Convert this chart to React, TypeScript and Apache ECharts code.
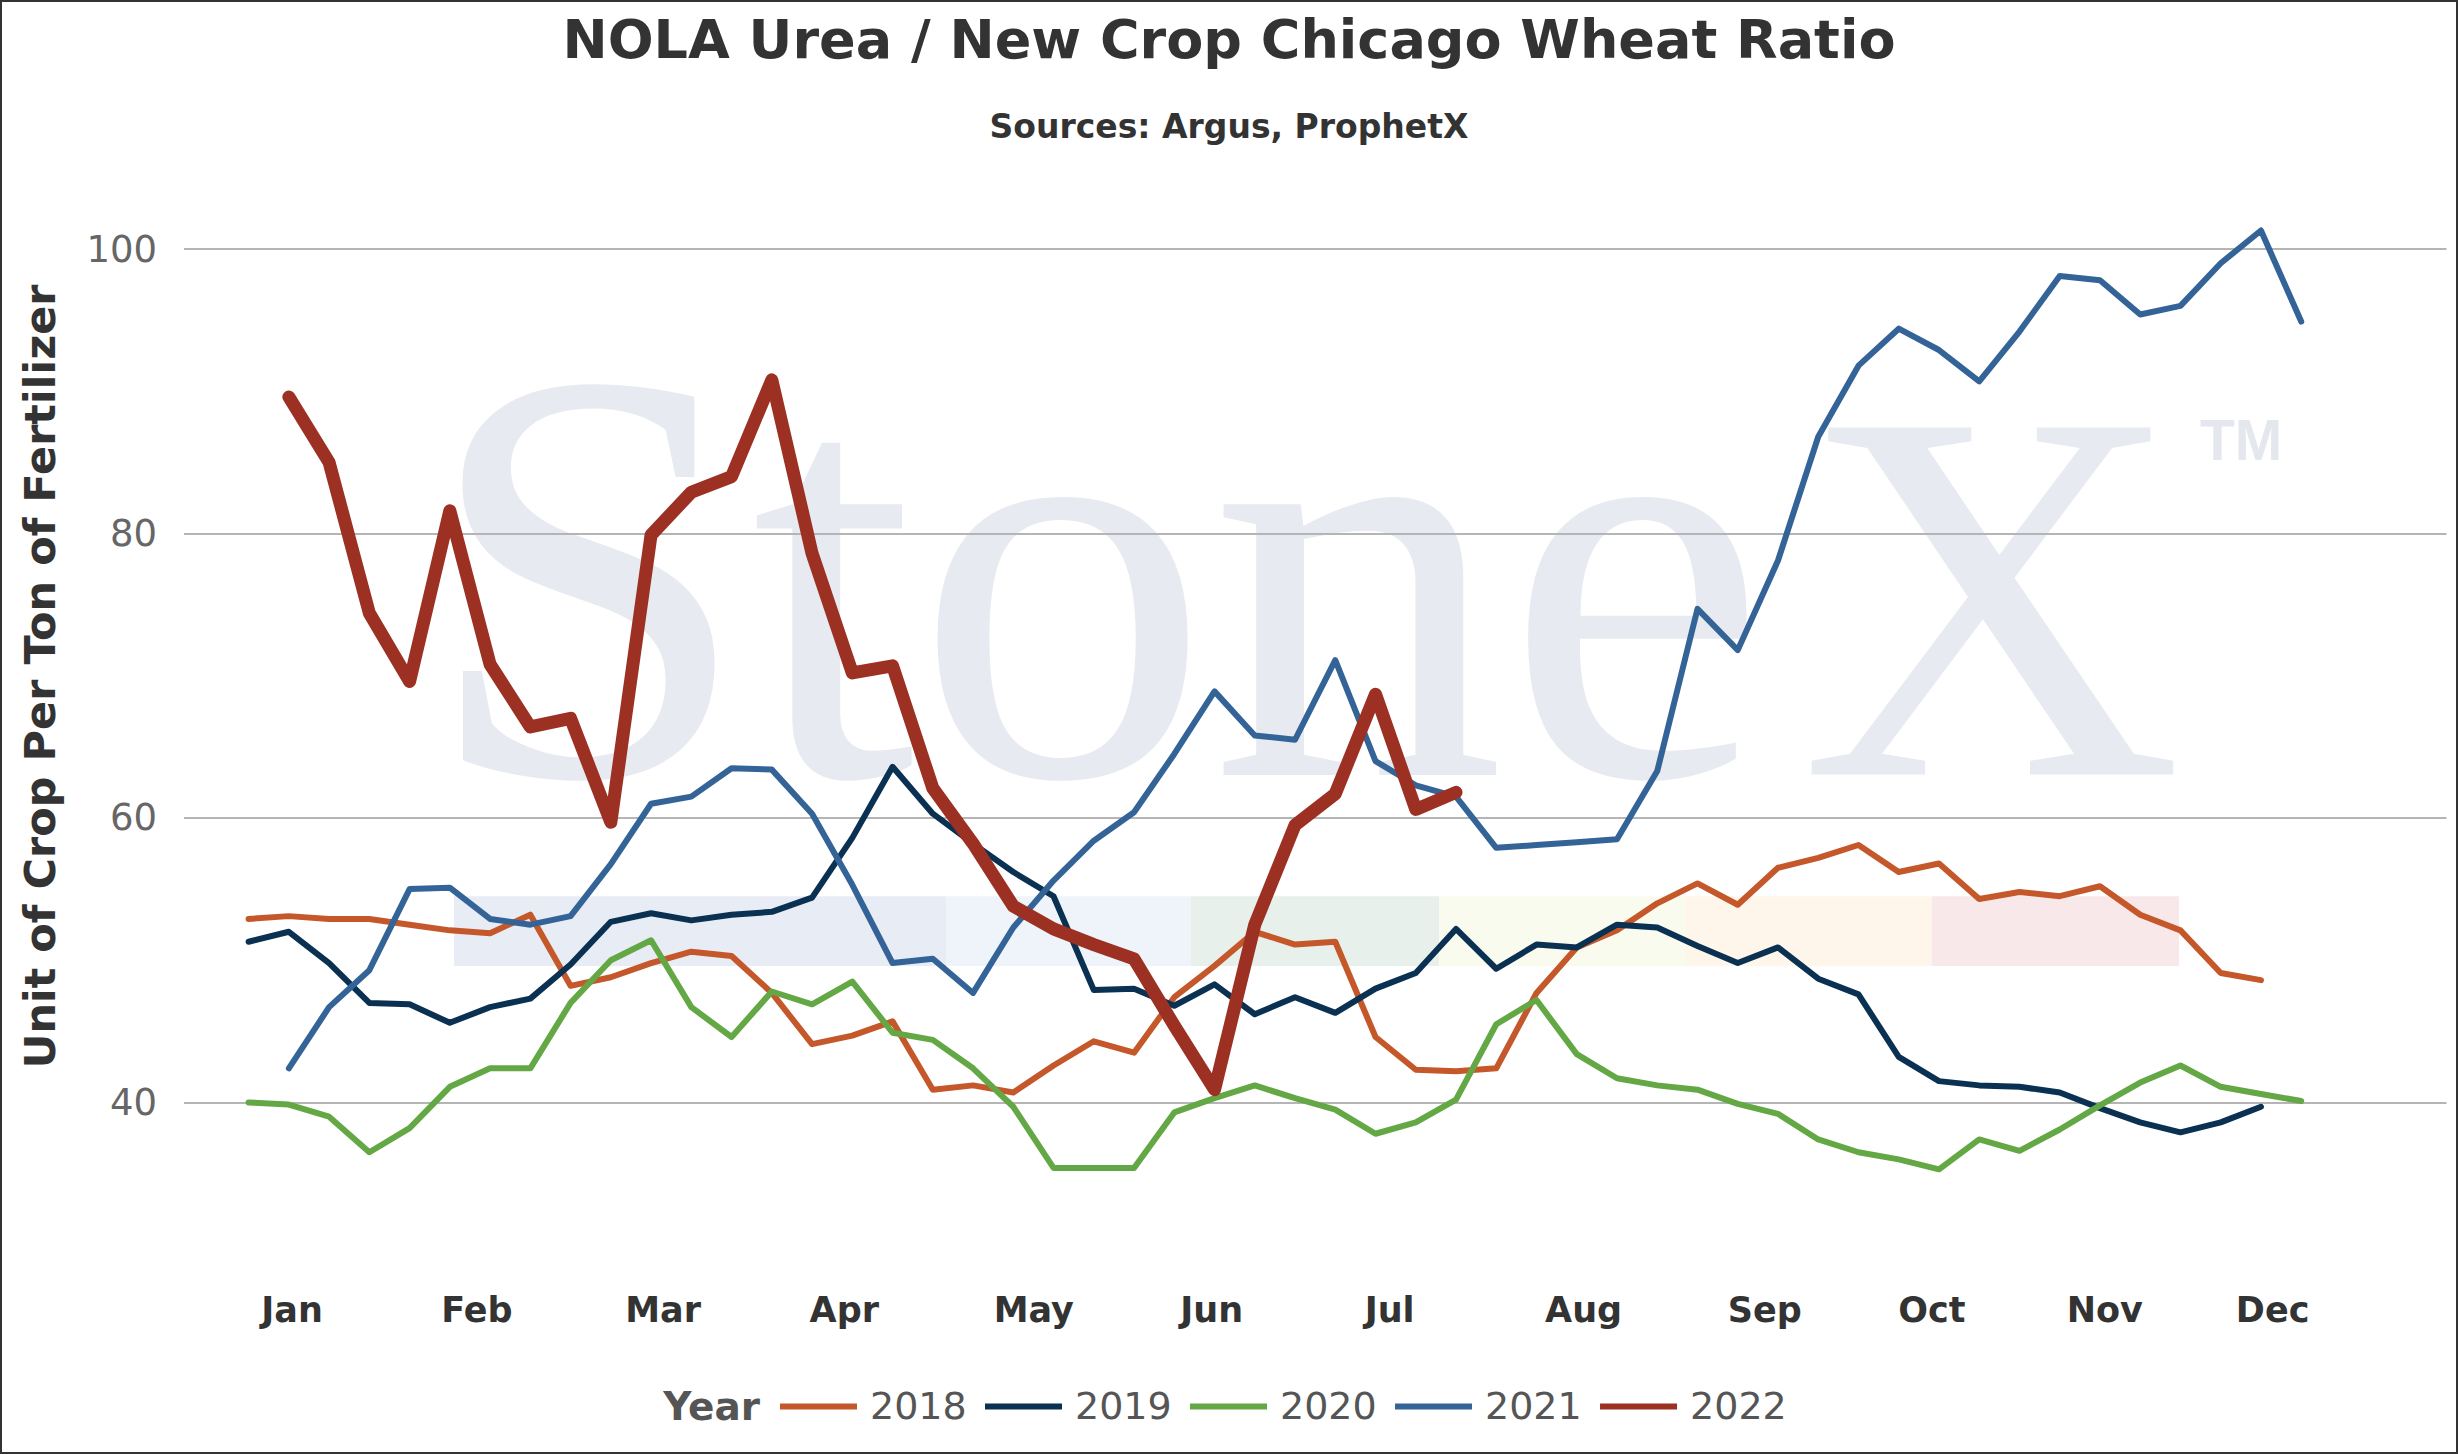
import React, { useEffect, useRef } from "react";
import * as echarts from "echarts";

// ---- data (weekly observations, index 0..51) ----
const years = ["2018", "2019", "2020", "2021", "2022"];
const monthLabels = ["Jan", "Feb", "Mar", "Apr", "May", "Jun", "Jul", "Aug", "Sep", "Oct", "Nov", "Dec"];
// week-index position at which each month label sits
const monthTickPositions = [1.08, 5.67, 10.3, 14.8, 19.51, 23.93, 28.35, 33.17, 37.67, 41.82, 46.12, 50.29];
const yTickValues = [40, 60, 80, 100];

const ratio2018 = [
  52.9, 53.1, 52.9, 52.9, 52.5, 52.1, 51.9, 53.2, 48.2, 48.8, 49.8, 50.6, 50.3,
  47.7, 44.1, 44.7, 45.7, 40.9, 41.2, 40.7, 42.6, 44.3, 43.5, 47.4, 49.6, 52.0,
  51.1, 51.3, 44.6, 42.3, 42.2, 42.4, 47.7, 50.9, 52.1, 54.0, 55.4, 53.9, 56.5,
  57.2, 58.1, 56.2, 56.8, 54.3, 54.8, 54.5, 55.2, 53.2, 52.1, 49.1, 48.6,
];
const ratio2019 = [
  51.3, 52.0, 49.8, 47.0, 46.9, 45.6, 46.7, 47.3, 49.7, 52.7, 53.3, 52.8, 53.2,
  53.4, 54.4, 58.6, 63.6, 60.3, 58.2, 56.2, 54.5, 47.9, 48.0, 46.8, 48.3, 46.2,
  47.4, 46.3, 48.0, 49.1, 52.2, 49.4, 51.1, 50.9, 52.5, 52.3, 51.0, 49.8, 50.9,
  48.7, 47.6, 43.2, 41.5, 41.2, 41.1, 40.7, 39.6, 38.6, 37.9, 38.6, 39.7,
];
const ratio2020 = [
  40.0, 39.85, 39.0, 36.5, 38.2, 41.1, 42.4, 42.4, 47.0, 50.0, 51.4, 46.7, 44.6,
  47.8, 46.9, 48.5, 44.9, 44.4, 42.4, 39.7, 35.4, 35.4, 35.4, 39.3, 40.3, 41.2,
  40.3, 39.5, 37.8, 38.6, 40.2, 45.5, 47.2, 43.4, 41.7, 41.2, 40.9, 39.9, 39.2,
  37.4, 36.5, 36.0, 35.3, 37.4, 36.6, 38.1, 39.8, 41.4, 42.6, 41.1, 40.6, 40.1,
];
const ratio2021 = [
  null, 42.4, 46.7, 49.3, 55.0, 55.1, 52.9, 52.5, 53.1, 56.75, 61.0, 61.5, 63.5,
  63.4, 60.3, 55.3, 49.8, 50.1, 47.7, 52.3, 55.6, 58.4, 60.4, 64.5, 68.9, 65.8,
  65.5, 71.1, 64.0, 62.3, 61.5, 57.9, 58.1, 58.3, 58.5, 63.3, 74.7, 71.8, 78.1,
  86.8, 91.8, 94.4, 92.9, 90.7, 94.2, 98.1, 97.8, 95.4, 96.0, 99.0, 101.3, 94.9,
];
const ratio2022 = [
  null, 89.6, 85.0, 74.4, 69.6, 81.6, 70.8, 66.4, 67.0, 59.7, 79.9, 82.9, 84.0,
  90.8, 78.6, 70.2, 70.7, 62.1, 58.2, 53.8, 52.2, 51.1, 50.1, 45.4, 40.9, 52.5,
  59.5, 61.7, 68.7, 60.6, 61.8,
];
const seriesValues = [ratio2018, ratio2019, ratio2020, ratio2021, ratio2022];

// ---- styling ----
const seriesColors = ["#C5582A", "#0B3152", "#64A846", "#346497", "#9C3123"];
const seriesWidths = [6, 6, 6, 6, 13];
const FONT = "DejaVu Sans";

const W = 2458;
const H = 1454;

export default function App() {
  const ref = useRef<HTMLDivElement>(null);

  useEffect(() => {
    if (!ref.current) return;
    const chart = echarts.init(ref.current, null, { renderer: "svg" });

    const bands: [number, number, string][] = [
      [454, 946, "#E8ECF4"],
      [946, 1191, "#EEF4F9"],
      [1191, 1439, "#E7F0EA"],
      [1439, 1685, "#FAFBEF"],
      [1685, 1932, "#FEF6EA"],
      [1932, 2179, "#F8E8E9"],
    ];

    const option: any = {
      animation: false,
      backgroundColor: "#ffffff",
      textStyle: { fontFamily: FONT },
      grid: {
        left: 184,
        right: 11.5,
        top: 177.9,
        bottom: 209.3,
        containLabel: false,
        outerBoundsMode: "none",
      },
      xAxis: {
        type: "value",
        min: -1.605,
        max: 54.61,
        axisLine: { show: false },
        axisTick: { show: false, customValues: monthTickPositions },
        splitLine: { show: false },
        axisLabel: {
          customValues: monthTickPositions,
          formatter: (v: number) => {
            let best = 0;
            let bd = Infinity;
            monthTickPositions.forEach((p, i) => {
              const d = Math.abs(p - v);
              if (d < bd) {
                bd = d;
                best = i;
              }
            });
            return monthLabels[best];
          },
          color: "#333333",
          fontFamily: FONT,
          fontWeight: "bold",
          fontSize: 35,
          verticalAlign: "middle",
          margin: 65,
        },
      },
      yAxis: {
        type: "value",
        min: 30,
        max: 105,
        axisLine: { show: false },
        axisTick: { show: false, customValues: yTickValues },
        axisLabel: {
          customValues: yTickValues,
          color: "#666666",
          fontFamily: FONT,
          fontSize: 37,
          margin: 27,
        },
        splitLine: { show: true, lineStyle: { color: "#b5b5b5", width: 2 } },
      },
      legend: {
        left: 780,
        top: 1387.4,
        padding: 0,
        icon: "rect",
        itemWidth: 77,
        itemHeight: 6,
        itemGap: 18.3,
        data: years,
        textStyle: {
          fontFamily: FONT,
          fontSize: 38,
          color: "#555555",
          padding: [0, 0, 0, 8],
        },
      },
      series: years.map((y, k) => ({
        name: y,
        type: "line",
        showSymbol: false,
        symbol: "none",
        clip: false,
        color: seriesColors[k],
        lineStyle: {
          color: seriesColors[k],
          width: seriesWidths[k],
          cap: "round",
          join: "round",
        },
        data: seriesValues[k]
          .map((v, i) => [i, v])
          .filter((d) => d[1] !== null),
        z: 2 + k,
      })),
      graphic: [
        ...bands.map((b) => ({
          type: "rect",
          z: -1,
          silent: true,
          shape: { x: b[0], y: 896.3, width: b[1] - b[0], height: 69.7 },
          style: { fill: b[2] },
        })),
        {
          type: "text",
          z: -1,
          silent: true,
          x: 423,
          y: 576,
          style: {
            text: "Stone",
            fontFamily: "Liberation Serif",
            fontSize: 590,
            fill: "#E7EAF0",
            align: "left",
            verticalAlign: "middle",
          },
        },
        {
          type: "text",
          z: -1,
          silent: true,
          x: 1800,
          y: 596,
          style: {
            text: "X",
            fontFamily: "Liberation Serif",
            fontSize: 530,
            fill: "#E7EAF0",
            align: "left",
            verticalAlign: "middle",
          },
        },
        {
          type: "text",
          z: -1,
          silent: true,
          x: 2200,
          y: 440,
          style: {
            text: "TM",
            fontFamily: "Liberation Sans",
            fontWeight: "bold",
            fontSize: 57,
            fill: "#E4E8EE",
            align: "left",
            verticalAlign: "middle",
          },
        },
        {
          type: "text",
          x: 1229,
          y: 39.3,
          style: {
            text: "NOLA Urea / New Crop Chicago Wheat Ratio",
            fontFamily: FONT,
            fontWeight: "bold",
            fontSize: 54,
            fill: "#333333",
            align: "center",
            verticalAlign: "middle",
          },
        },
        {
          type: "text",
          x: 1229,
          y: 126.3,
          style: {
            text: "Sources: Argus, ProphetX",
            fontFamily: FONT,
            fontWeight: "bold",
            fontSize: 33,
            fill: "#333333",
            align: "center",
            verticalAlign: "middle",
          },
        },
        {
          type: "text",
          x: 39.5,
          y: 676.5,
          rotation: Math.PI / 2,
          style: {
            text: "Unit of Crop Per Ton of Fertilizer",
            fontFamily: FONT,
            fontWeight: "bold",
            fontSize: 43,
            fill: "#333333",
            align: "center",
            verticalAlign: "middle",
          },
        },
        {
          type: "text",
          x: 760,
          y: 1406.4,
          style: {
            text: "Year",
            fontFamily: FONT,
            fontWeight: "bold",
            fontSize: 39,
            fill: "#555555",
            align: "right",
            verticalAlign: "middle",
          },
        },
        {
          type: "rect",
          silent: true,
          shape: { x: 1, y: 1, width: W - 2, height: H - 2 },
          style: { fill: "none", stroke: "#333333", lineWidth: 2 },
        },
      ],
    };

    chart.setOption(option);
    return () => chart.dispose();
  }, []);

  return (
    <div
      ref={ref}
      style={{ position: "absolute", left: 0, top: 0, width: W, height: H, background: "#fff" }}
    />
  );
}
